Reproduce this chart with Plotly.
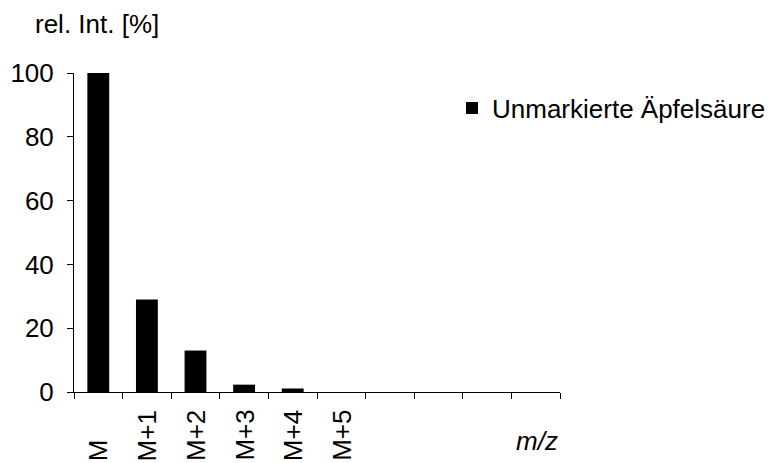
import plotly.graph_objects as go

# Isotopologue distribution of unlabelled malic acid
categories = ["M", "M+1", "M+2", "M+3", "M+4", "M+5"]
rel_intensity = [100, 29, 13, 2.3, 1.1, 0]
empty_slots = [" ", "  ", "   ", "    "]  # unlabelled positions on the m/z axis
series_name = "Unmarkierte Äpfelsäure"
y_ticks = [0, 20, 40, 60, 80, 100]

FONT = "Liberation Sans, Arial, sans-serif"
FS = 26

W, H = 771, 463
L, R, T, B = 74, 211, 73, 71
plot_w = W - L - R
plot_h = H - T - B
x_base = H - B  # pixel row of the x axis


def py(pixel_row):
    """Convert a pixel row to paper y."""
    return (x_base - pixel_row) / plot_h


fig = go.Figure()
fig.add_trace(go.Bar(
    x=categories,
    y=rel_intensity,
    name=series_name,
    width=0.45,
    marker=dict(color="black", line=dict(width=0)),
    showlegend=True,
))

# rotated category labels, start-aligned near the bottom edge
for c in categories:
    fig.add_annotation(
        x=c, xref="x", y=py(463), yref="paper",
        text=c, textangle=-90, showarrow=False,
        xanchor="center", yanchor="bottom",
        font=dict(family=FONT, size=FS, color="black"),
    )

fig.add_annotation(
    x=(33 - L) / plot_w, xref="paper", y=py(24), yref="paper",
    text="rel. Int. [%]", showarrow=False, xanchor="left", yanchor="middle",
    font=dict(family=FONT, size=FS, color="black"),
)
fig.add_annotation(
    x=1.0, xref="paper", y=py(441), yref="paper",
    text="<i>m/z</i>", showarrow=False, xanchor="right", yanchor="middle",
    font=dict(family=FONT, size=FS, color="black"),
)

fig.update_layout(
    width=W, height=H,
    margin=dict(l=L, r=R, t=T, b=B, autoexpand=False),
    paper_bgcolor="white", plot_bgcolor="white",
    font=dict(family=FONT, size=FS, color="black"),
    legend=dict(
        x=(452 - L) / plot_w, xanchor="left",
        y=py(108), yanchor="middle",
        font=dict(family=FONT, size=FS, color="black"),
        bgcolor="rgba(0,0,0,0)", borderwidth=0,
    ),
    xaxis=dict(
        type="category",
        categoryorder="array",
        categoryarray=categories + empty_slots,
        range=[-0.5, len(categories) + len(empty_slots) - 0.5],
        tickson="boundaries",
        ticks="outside", ticklen=6, tickcolor="black", tickwidth=1,
        showticklabels=False,
        showline=True, linecolor="black", linewidth=1,
        showgrid=False, zeroline=False, fixedrange=True,
    ),
    yaxis=dict(
        range=[0, 100],
        tickmode="array", tickvals=y_ticks, ticktext=[str(v) for v in y_ticks],
        ticks="outside", ticklen=6, tickcolor="black", tickwidth=1,
        ticklabelstandoff=8,
        showline=True, linecolor="black", linewidth=1,
        showgrid=False, zeroline=False, fixedrange=True,
        tickfont=dict(family=FONT, size=FS, color="black"),
    ),
)

fig.write_html("out.html")
